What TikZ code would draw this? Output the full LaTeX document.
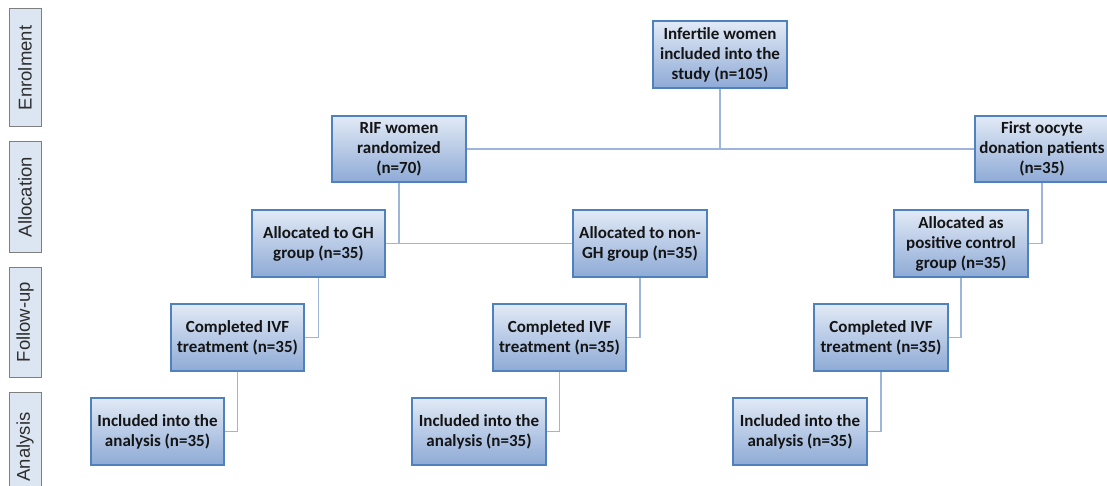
\documentclass[tikz,border=0pt]{standalone}
\usepackage{fontspec}
\setmainfont{Carlito}
\newfontfamily\sidefont{Liberation Sans}
\definecolor{boxborder}{HTML}{4F81BD}
\definecolor{boxtop}{HTML}{E2EAF6}
\definecolor{boxbot}{HTML}{8EAAD6}
\definecolor{linkcol}{HTML}{9DB5DA}
\definecolor{sidefill}{HTML}{DCE6F2}
\definecolor{sideborder}{HTML}{7F7F7F}
\definecolor{sidetext}{HTML}{2E2E2E}
\definecolor{boxtext}{HTML}{141414}
\tikzset{
  flowbox/.style={draw=boxborder, line width=1.2pt, top color=boxtop, bottom color=boxbot,
    minimum width=134pt, minimum height=67pt, inner sep=0pt, align=center,
    font=\bfseries\fontsize{17}{20}\selectfont, text=boxtext},
  sidebox/.style={draw=sideborder, line width=1pt, fill=sidefill, rotate=90,
    minimum height=32pt, inner sep=0pt, font=\sidefont\fontsize{18.5}{20}\selectfont, text=sidetext},
  link/.style={draw=linkcol, line width=1.3pt}
}
\begin{document}
\begin{tikzpicture}[x=1pt,y=-1pt]
\useasboundingbox (0,0) rectangle (1107,486);
% side labels
\node[sidebox, minimum width=118pt] (s1) at (25,68) {Enrolment};
\node[sidebox, minimum width=110pt] (s2) at (25,197) {Allocation};
\node[sidebox, minimum width=110pt] (s3) at (25,322) {Follow-up};
\node[sidebox, minimum width=110pt] (s4) at (25,447) {Analysis};
% boxes
\node[flowbox] (inf) at (720,54.5) {Infertile women\\included into the\\study (n=105)};
\node[flowbox, minimum height=66pt] (rif) at (399,149) {RIF women\\randomized\\(n=70)};
\node[flowbox, minimum height=66pt] (fod) at (1042,149) {First oocyte\\donation patients\\(n=35)};
\node[flowbox, minimum width=133pt] (gh) at (318.5,243.5) {Allocated to GH\\group (n=35)};
\node[flowbox] (ngh) at (640,243.5) {Allocated to non-\\GH group (n=35)};
\node[flowbox] (pos) at (961,243.5) {Allocated as\\positive control\\group (n=35)};
\node[flowbox, minimum width=133pt] (c1) at (237.5,337.5) {Completed IVF\\treatment (n=35)};
\node[flowbox, minimum width=133pt] (c2) at (559.5,337.5) {Completed IVF\\treatment (n=35)};
\node[flowbox] (c3) at (881,337.5) {Completed IVF\\treatment (n=35)};
\node[flowbox, minimum width=133pt] (i1) at (157.5,431.5) {Included into the\\analysis (n=35)};
\node[flowbox] (i2) at (479,431.5) {Included into the\\analysis (n=35)};
\node[flowbox] (i3) at (800,431.5) {Included into the\\analysis (n=35)};
% connectors
\draw[link] (inf.south) -- (inf.south |- rif.east);
\draw[link] (rif.east) -- (fod.west);
\draw[link] (rif.south) -- (rif.south |- ngh.west);
\draw[link] (gh.east) -- (ngh.west);
\draw[link] (fod.south) |- (pos.east);
\draw[link] (gh.south) |- (c1.east);
\draw[link] (ngh.south) |- (c2.east);
\draw[link] (pos.south) |- (c3.east);
\draw[link] (c1.south) |- (i1.east);
\draw[link] (c2.south) |- (i2.east);
\draw[link] (c3.south) |- (i3.east);
\end{tikzpicture}
\end{document}
